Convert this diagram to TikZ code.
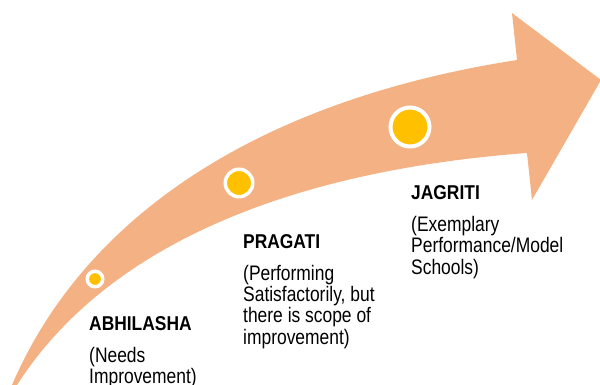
\documentclass[tikz,border=0pt]{standalone}
\usepackage{fontspec}
\setmainfont{Liberation Sans}
\newfontfamily\hdfont[FakeStretch=0.87]{Liberation Sans}
\newfontfamily\bdfont[FakeStretch=0.83]{Liberation Sans}
\definecolor{arrowpeach}{HTML}{F4B183}
\definecolor{dotyellow}{HTML}{FFC000}
\begin{document}
\begin{tikzpicture}[x=1pt,y=-1pt,
  title/.style={anchor=base west, inner sep=0pt, font=\hdfont\bfseries\fontsize{20}{20}\selectfont, text=black},
  desc/.style={anchor=north west, inner sep=0pt, align=left, font=\bdfont\fontsize{21}{21.3}\selectfont, text=black},
  dot/.style={circle, fill=dotyellow, draw=white, inner sep=0pt}]
\useasboundingbox (0,0) rectangle (600,385);
\clip (0,0) rectangle (600,385);
% curved arrow
\fill[arrowpeach] (12,385) .. controls (85,215) and (260,100) .. (517,60)
  -- (512,13) -- (601,80) -- (532,200) -- (527,153)
  .. controls (300,170) and (110,240) .. (17,385) -- (10,393) -- cycle;
% milestones
\node[dot, minimum size=15.5pt, line width=3.5pt] (c1) at (95,279) {};
\node[dot, minimum size=27.5pt, line width=3.5pt] (c2) at (239,183) {};
\node[dot, minimum size=39pt, line width=4pt] (c3) at (410,127) {};
% labels
\node[title] (t1) at (89,330) {ABHILASHA};
\node[desc] (d1) at (89,346.7) {(Needs\\Improvement)};
\node[title] (t2) at (243,248) {PRAGATI};
\node[desc] (d2) at (243,264.7) {(Performing\\Satisfactorily, but\\there is scope of\\improvement)};
\node[title] (t3) at (411,200) {JAGRITI};
\node[desc] (d3) at (411,216.2) {(Exemplary\\Performance/Model\\Schools)};
\end{tikzpicture}
\end{document}
